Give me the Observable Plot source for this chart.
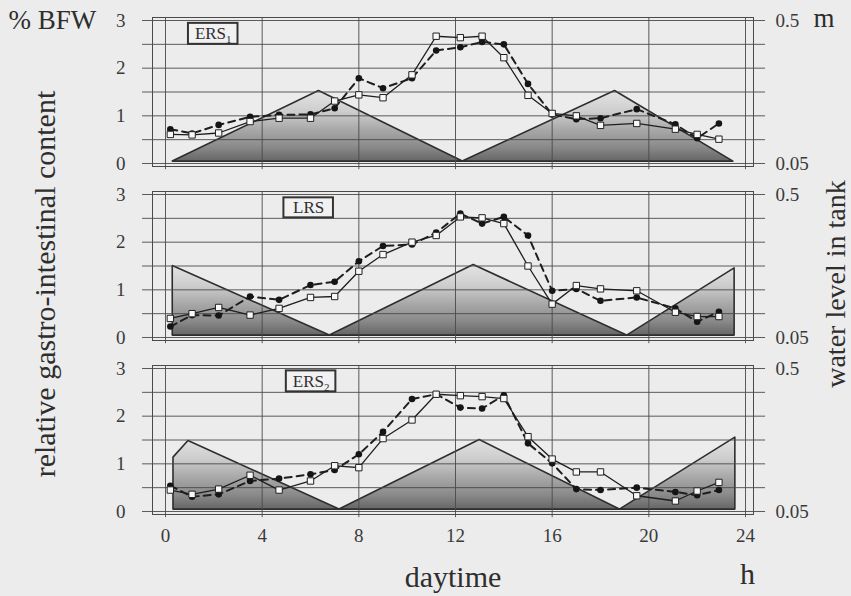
<!DOCTYPE html>
<html><head><meta charset="utf-8">
<script src="https://cdn.jsdelivr.net/npm/d3@7"></script>
<script src="https://cdn.jsdelivr.net/npm/@observablehq/plot@0.6"></script>
<style>
html,body{margin:0;padding:0;background:#ececec;}
#chart{width:851px;height:596px;}
</style></head><body><div id="chart"></div>
<script>
// ---- data ----
const panels = ["ERS1", "LRS", "ERS2"];
const panelTitles = ["ERS_1", "LRS", "ERS_2"];

// sampling times (h)
const hours = [0.2, 1.1, 2.2, 3.5, 4.7, 6.0, 7.0, 8.0, 9.0, 10.2, 11.2, 12.2, 13.1, 14.0, 15.0, 16.0, 17.0, 18.0, 19.5, 21.1, 22.0, 22.9];

// relative gastro-intestinal content (% BFW): open squares (solid line) and filled circles (dashed line)
const ers1Squares = [0.61, 0.60, 0.64, 0.88, 0.95, 0.95, 1.31, 1.44, 1.38, 1.86, 2.67, 2.64, 2.67, 2.22, 1.43, 1.05, 1.00, 0.80, 0.84, 0.72, 0.61, 0.51];
const ers1Circles = [0.72, 0.63, 0.81, 0.98, 1.02, 1.03, 1.16, 1.79, 1.58, 1.79, 2.37, 2.44, 2.55, 2.50, 1.67, 1.03, 0.93, 0.95, 1.14, 0.82, 0.53, 0.84];
const lrsSquares  = [0.40, 0.50, 0.63, 0.47, 0.61, 0.84, 0.86, 1.39, 1.74, 2.00, 2.14, 2.53, 2.51, 2.39, 1.50, 0.70, 1.09, 1.02, 0.98, 0.53, 0.44, 0.44];
const lrsCircles  = [0.23, 0.47, 0.46, 0.86, 0.79, 1.10, 1.17, 1.60, 1.92, 1.95, 2.20, 2.60, 2.39, 2.53, 2.14, 0.98, 1.02, 0.77, 0.84, 0.61, 0.33, 0.54];
const ers2Squares = [0.45, 0.36, 0.47, 0.76, 0.45, 0.64, 0.96, 0.92, 1.53, 1.92, 2.46, 2.43, 2.41, 2.37, 1.57, 1.10, 0.83, 0.83, 0.33, 0.22, 0.43, 0.61];
const ers2Circles = [0.54, 0.31, 0.36, 0.64, 0.69, 0.78, 0.87, 1.20, 1.67, 2.36, 2.46, 2.18, 2.16, 2.44, 1.43, 1.01, 0.47, 0.45, 0.50, 0.41, 0.34, 0.45];

// water level in tank, expressed on the left-axis scale (0 = 0.05 m, 3 = 0.5 m, log)
const tankFloor = 0.04;
const ers1WaterHours = [0.3, 6.35, 12.3, 18.6, 23.5];
const ers1WaterLevel = [0.04, 1.52, 0.04, 1.52, 0.04];
const lrsWaterHours  = [0.3, 0.3, 6.8, 12.75, 19.1, 23.55, 23.55];
const lrsWaterLevel  = [0.04, 1.50, 0.04, 1.52, 0.04, 1.45, 0.04];
const ers2WaterHours = [0.33, 0.33, 0.95, 7.2, 13.0, 18.8, 23.58, 23.58];
const ers2WaterLevel = [0.04, 1.13, 1.48, 0.04, 1.50, 0.04, 1.55, 0.04];

// ticks
const leftTicks = [0, 1, 2, 3];
const gridLevels = [0, 0.5, 1, 1.5, 2, 2.5, 3];
const hourTicks = [0, 4, 8, 12, 16, 20, 24];
const rightTickLabels = ["0.05", "0.5"];

// ---- build tables ----
const squaresByPanel = [ers1Squares, lrsSquares, ers2Squares];
const circlesByPanel = [ers1Circles, lrsCircles, ers2Circles];
const waterHoursByPanel = [ers1WaterHours, lrsWaterHours, ers2WaterHours];
const waterLevelByPanel = [ers1WaterLevel, lrsWaterLevel, ers2WaterLevel];

const squares = panels.flatMap((p, k) => hours.map((h, i) => ({panel: p, hour: h, value: squaresByPanel[k][i]})));
const circles = panels.flatMap((p, k) => hours.map((h, i) => ({panel: p, hour: h, value: circlesByPanel[k][i]})));
const water = panels.flatMap((p, k) => waterHoursByPanel[k].map((h, i) => ({panel: p, hour: h, level: waterLevelByPanel[k][i]})));

// label boxes placement (layout only)
const labelBox = [
  {panel: "ERS1", text: panelTitles[0], x1: 0.95, x2: 3.0, y1: 2.5, y2: 2.94},
  {panel: "LRS",  text: panelTitles[1], x1: 4.9, x2: 6.95, y1: 2.51, y2: 2.93},
  {panel: "ERS2", text: panelTitles[2], x1: 5.0, x2: 7.05, y1: 2.51, y2: 2.95}
];

const ink = "#2e2e2e";
const serif = "'Liberation Serif', 'Times New Roman', serif";

const svg = Plot.plot({
  width: 851, height: 596,
  marginTop: 17, marginBottom: 82, marginLeft: 152, marginRight: 98,
  style: {background: "#ececec", fontFamily: serif, color: ink},
  x: {domain: [-0.538, 24.331]},
  y: {domain: [-0.063, 3.063]},
  fy: {domain: panels, paddingInner: 25 / 174, paddingOuter: 0, round: false, axis: null, label: null},
  marks: [
    Plot.areaY(water, {x: "hour", y1: tankFloor, y2: "level", fy: "panel", fill: "url(#waterFill)", stroke: ink, strokeWidth: 1.6, curve: "linear"}),
    Plot.ruleY(gridLevels, {x1: -0.95, x2: 24.83, stroke: "#4a4a4a", strokeWidth: 0.9}),
    Plot.ruleX(hourTicks, {y1: -0.13, y2: 3.063, stroke: "#4a4a4a", strokeWidth: 0.9}),
    Plot.frame({stroke: "#4a4a4a", strokeWidth: 1}),
    Plot.line(circles, {x: "hour", y: "value", fy: "panel", stroke: "#1e1e1e", strokeWidth: 2, strokeDasharray: "7,5"}),
    Plot.line(squares, {x: "hour", y: "value", fy: "panel", stroke: "#1e1e1e", strokeWidth: 1.3}),
    Plot.dot(circles, {x: "hour", y: "value", fy: "panel", r: 3.3, fill: "#151515", stroke: "none"}),
    Plot.dot(squares, {x: "hour", y: "value", fy: "panel", symbol: "square", r: 3.6, fill: "#f8f8f8", stroke: "#222", strokeWidth: 1}),
    Plot.rect(labelBox, {x1: "x1", x2: "x2", y1: "y1", y2: "y2", fy: "panel", fill: "#f1f1f1", stroke: "#333", strokeWidth: 2}),
    Plot.text(labelBox, {x: d => (d.x1 + d.x2) / 2, y: d => (d.y1 + d.y2) / 2, text: "text", fy: "panel", fontSize: 17, fill: ink, fontFamily: serif}),
    Plot.axisY(leftTicks, {anchor: "left", tickSize: 0, tickPadding: 27, fontSize: 19, fill: "#3a3a3a", label: null}),
    Plot.axisY([0, 3], {anchor: "right", tickSize: 0, tickPadding: 22, fontSize: 19, fill: "#3a3a3a", label: null,
      tickFormat: d => d === 0 ? rightTickLabels[0] : rightTickLabels[1]}),
    Plot.axisX(hourTicks, {tickSize: 0, tickPadding: 14, fontSize: 19, fill: "#3a3a3a", label: null}),
    Plot.text([{panel: "ERS1", t: "% BFW"}], {fy: "panel", text: "t", frameAnchor: "top-left", dx: -144, dy: 3, textAnchor: "start", lineAnchor: "middle", fontSize: 27, fill: ink}),
    Plot.text([{panel: "ERS1", t: "m"}], {fy: "panel", text: "t", frameAnchor: "top-right", dx: 60, dy: 1, textAnchor: "start", lineAnchor: "middle", fontSize: 27, fill: ink}),
    Plot.text([{panel: "LRS", t: "relative gastro-intestinal content"}], {fy: "panel", text: "t", frameAnchor: "left", dx: -107, dy: 18, rotate: -90, textAnchor: "middle", lineAnchor: "middle", fontSize: 30, fill: ink}),
    Plot.text([{panel: "LRS", t: "water level in tank"}], {fy: "panel", text: "t", frameAnchor: "right", dx: 83, dy: 18, rotate: -90, textAnchor: "middle", lineAnchor: "middle", fontSize: 28, fill: ink}),
    Plot.text([{panel: "ERS2", t: "daytime"}], {fy: "panel", text: "t", frameAnchor: "bottom", dy: 63, lineAnchor: "middle", fontSize: 30, fill: ink}),
    Plot.text([{panel: "ERS2", t: "h"}], {fy: "panel", text: "t", frameAnchor: "bottom-right", dx: -6, dy: 60, textAnchor: "middle", lineAnchor: "middle", fontSize: 30, fill: ink})
  ]
});

// gradient fill for the water-level area (light at top, dark at the bottom)
const defs = d3.select(svg).insert("defs", ":first-child");
const grad = defs.append("linearGradient").attr("id", "waterFill").attr("x1", 0).attr("y1", 0).attr("x2", 0).attr("y2", 1);
[[0, "#e4e4e4"], [0.3, "#cdcdcd"], [0.55, "#a9a9a9"], [0.8, "#8a8a8a"], [1, "#666"]].forEach(([o, c]) =>
  grad.append("stop").attr("offset", o).attr("stop-color", c));

// subscripts in the panel labels (ERS_1 -> ERS with subscript 1)
d3.select(svg).selectAll("text").each(function () {
  const m = /^(.*)_(\d)$/.exec(this.textContent);
  if (!m) return;
  const el = d3.select(this);
  el.text(m[1]);
  el.append("tspan").attr("font-size", 11).attr("dy", "0.35em").text(m[2]);
});

document.getElementById("chart").appendChild(svg);
</script></body></html>
